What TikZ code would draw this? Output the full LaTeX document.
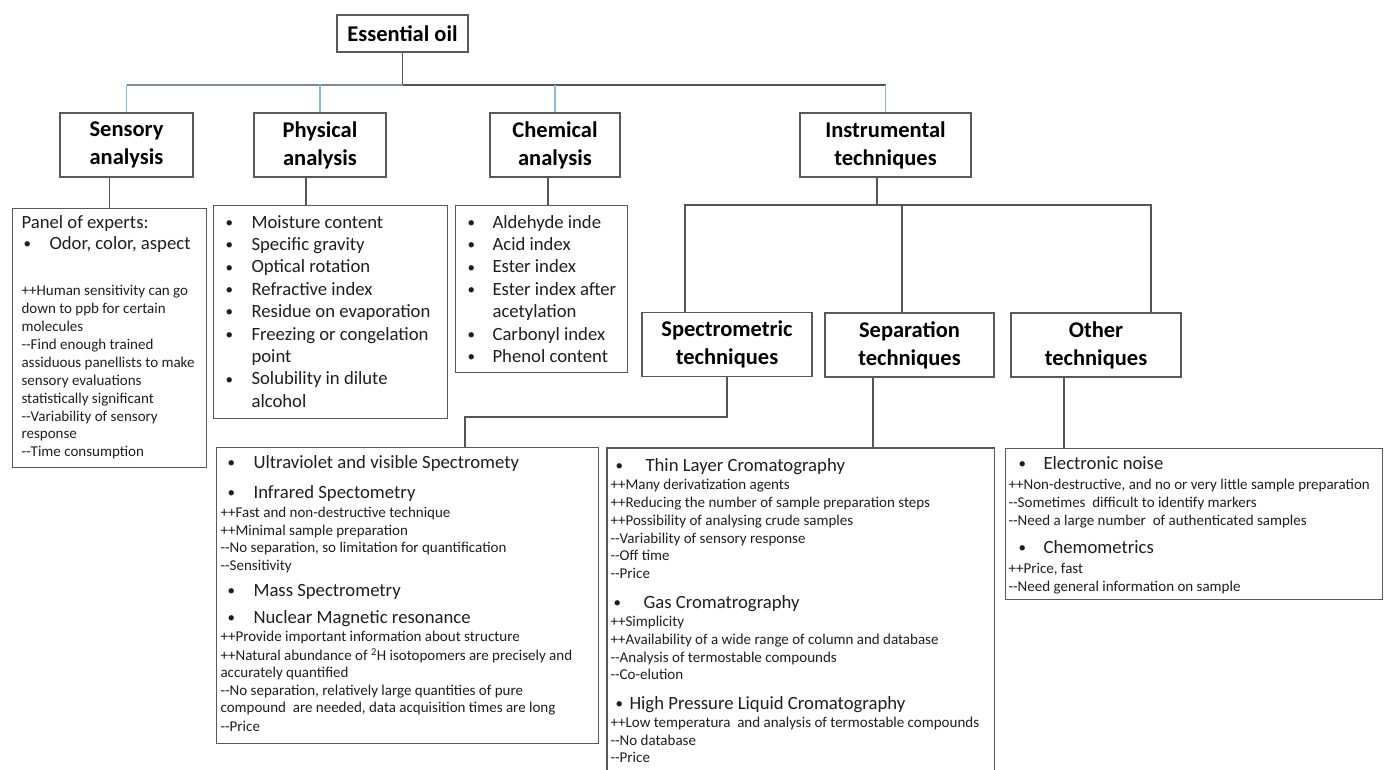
\documentclass[tikz,border=0pt]{standalone}
\usepackage{fontspec}
\setmainfont{Carlito}
\usetikzlibrary{positioning,calc}
\definecolor{boxgray}{RGB}{89,89,89}
\definecolor{linegray}{RGB}{85,85,85}
\definecolor{hubgray}{RGB}{125,140,155}
\definecolor{stubblue}{RGB}{140,182,218}
\definecolor{txtgray}{RGB}{30,30,30}
\tikzset{
  head/.style={draw=boxgray,line width=1.1pt,fill=white,align=center,inner sep=0pt,
    font=\fontsize{22.5}{28}\selectfont\bfseries,text=black},
  listbox/.style={draw=boxgray,line width=1.1pt,anchor=north west,inner sep=0pt,text=txtgray},
  conn/.style={line width=1.1pt,linegray},
  stub/.style={line width=1.1pt,stubblue}
}
\newlength{\smpad}
\newlength{\bulx}
\newlength{\txtx}
% one line of list text: {baselineskip}{text}
\newcommand{\bigline}[2]{{\fontsize{18.7}{#1}\selectfont #2\par}}
\newcommand{\smline}[2]{{\fontsize{15}{#1}\selectfont\hspace*{\smpad}#2\par}}
\newcommand{\bul}{\hspace*{\bulx}\makebox[\dimexpr\txtx-\bulx\relax][l]{\raisebox{0.8pt}{\fontsize{15}{15}\selectfont\textbullet}}}
\newcommand{\ind}{\hspace*{\txtx}}
\newcommand{\dsh}{-\kern0pt-}
\newcommand{\lbox}[3]{\parbox[t][#2][t]{#1}{\lineskiplimit=-100pt\lineskip=0pt\leavevmode\par#3}}

\begin{document}
\begin{tikzpicture}[x=1pt,y=-1pt]
    \useasboundingbox (0,0) rectangle (1384,769);
    % headers
    \node[head,minimum width=131pt,minimum height=37pt] (oil) at (402.5,33.5) {Essential oil};
    \node[head,minimum width=133pt,minimum height=64pt] (sens) at (126.5,145) {Sensory\\analysis};
    \node[head,minimum width=132pt,minimum height=64pt] (phys) at (320,145) {Physical\\analysis};
    \node[head,minimum width=130pt,minimum height=64pt] (chem) at (555,145) {Chemical\\analysis};
    \node[head,minimum width=171pt,minimum height=64pt] (instr) at (885.5,145) {Instrumental\\techniques};
    \node[head,minimum width=170pt,minimum height=64pt] (spec) at (727,344.5) {Spectrometric\\techniques};
    \node[head,minimum width=169pt,minimum height=64pt] (sep) at (909.5,345) {Separation\\techniques};
    \node[head,minimum width=170pt,minimum height=64pt] (other) at (1096,345) {Other\\techniques};

    \node[listbox] (sensT) at (12,208) {\lbox{194pt}{259pt}{%
      \setlength{\smpad}{9pt}\setlength{\bulx}{11pt}\setlength{\txtx}{37pt}%
      \bigline{19.5pt}{\hspace*{9pt}Panel of experts:}
      \bigline{21pt}{\bul Odor, color, aspect}
      \smline{46.7pt}{++Human sensitivity can go}
      \smline{17.9pt}{down to ppb for certain}
      \smline{17.9pt}{molecules}
      \smline{17.9pt}{\dsh Find enough trained}
      \smline{17.9pt}{assiduous panellists to make}
      \smline{17.9pt}{sensory evaluations}
      \smline{17.9pt}{statistically significant}
      \smline{17.9pt}{\dsh Variability of sensory}
      \smline{17.9pt}{response}
      \smline{17.9pt}{\dsh Time consumption}}};

    \node[listbox] (physT) at (213,205) {\lbox{234pt}{213pt}{%
      \setlength{\bulx}{12pt}\setlength{\txtx}{38pt}%
      \bigline{22.5pt}{\bul Moisture content}
      \bigline{22.4pt}{\bul Specific gravity}
      \bigline{22.4pt}{\bul Optical rotation}
      \bigline{22.4pt}{\bul Refractive index}
      \bigline{22.4pt}{\bul Residue on evaporation}
      \bigline{22.4pt}{\bul Freezing or congelation}
      \bigline{22.4pt}{\ind point}
      \bigline{22.4pt}{\bul Solubility in dilute}
      \bigline{22.4pt}{\ind alcohol}}};

    \node[listbox] (chemT) at (455,205) {\lbox{172pt}{167pt}{%
      \setlength{\bulx}{12pt}\setlength{\txtx}{37pt}%
      \bigline{22.5pt}{\bul Aldehyde inde}
      \bigline{22.4pt}{\bul Acid index}
      \bigline{22.4pt}{\bul Ester index}
      \bigline{22.4pt}{\bul Ester index after}
      \bigline{22.4pt}{\ind acetylation}
      \bigline{22.4pt}{\bul Carbonyl index}
      \bigline{22.4pt}{\bul Phenol content}}};

    \node[listbox] (specT) at (216,447) {\lbox{382pt}{296pt}{%
      \setlength{\smpad}{4pt}\setlength{\bulx}{11pt}\setlength{\txtx}{37pt}%
      \bigline{20.5pt}{\bul Ultraviolet and visible Spectromety}
      \bigline{30pt}{\bul Infrared Spectometry}
      \smline{19.7pt}{++Fast and non-destructive technique}
      \smline{18pt}{++Minimal sample preparation}
      \smline{17pt}{\dsh No separation, so limitation for quantification}
      \smline{18pt}{\dsh Sensitivity}
      \bigline{25.3pt}{\bul Mass Spectrometry}
      \bigline{27pt}{\bul Nuclear Magnetic resonance}
      \smline{18.7pt}{++Provide important information about structure}
      \smline{19pt}{++Natural abundance of \textsuperscript{2}H isotopomers are precisely and}
      \smline{17pt}{accurately quantified}
      \smline{18pt}{\dsh No separation, relatively large quantities of pure}
      \smline{17pt}{compound\ \ are needed, data acquisition times are long}
      \smline{19pt}{\dsh Price}}};

    \node[listbox,draw=none] (sepT) at (607,448) {\lbox{386pt}{321pt}{%
      \setlength{\smpad}{3pt}\setlength{\bulx}{8pt}\setlength{\txtx}{38pt}%
      \bigline{22.5pt}{\bul Thin Layer Cromatography}
      \smline{18.7pt}{++Many derivatization agents}
      \smline{17.8pt}{++Reducing the number of sample preparation steps}
      \smline{17.8pt}{++Possibility of analysing crude samples}
      \smline{17.8pt}{\dsh Variability of sensory response}
      \smline{17.8pt}{\dsh Off time}
      \smline{17.8pt}{\dsh Price}
      \bigline{29.3pt}{\setlength{\bulx}{6pt}\setlength{\txtx}{36pt}\bul Gas Cromatrography}
      \smline{18.7pt}{++Simplicity}
      \smline{17.7pt}{++Availability of a wide range of column and database}
      \smline{17.7pt}{\dsh Analysis of termostable compounds}
      \smline{17.7pt}{\dsh Co-elution}
      \bigline{29.3pt}{\setlength{\bulx}{8pt}\setlength{\txtx}{22pt}\bul High Pressure Liquid Cromatography}
      \smline{18.7pt}{++Low temperatura\ \ and analysis of termostable compounds}
      \smline{17.5pt}{\dsh No database}
      \smline{17.5pt}{\dsh Price}}};
    \draw[draw=boxgray,line width=1.1pt] (sepT.south west) |- (sepT.north east) -- (sepT.south east);

    \node[listbox] (otherT) at (1005,448) {\lbox{377pt}{151pt}{%
      \setlength{\smpad}{3pt}\setlength{\bulx}{13pt}\setlength{\txtx}{38pt}%
      \bigline{20.5pt}{\bul Electronic noise}
      \smline{20.7pt}{++Non-destructive, and no or very little sample preparation}
      \smline{17.5pt}{\dsh Sometimes\ \ difficult to identify markers}
      \smline{17.8pt}{\dsh Need a large number\ \ of authenticated samples}
      \bigline{28.3pt}{\bul Chemometrics}
      \smline{19.7pt}{++Price, fast}
      \smline{18pt}{\dsh Need general information on sample}}};

    % top tree
    \coordinate (hub) at (402.5,85);
    \draw[conn] (oil.south) -- (hub);
    \draw[line width=1.1pt,hubgray] (sens.north |- hub) -- (hub);
    \draw[conn] (hub) -- (instr.north |- hub);
    \foreach \n in {sens,phys,chem,instr}
        \draw[stub] (\n.north |- hub) -- (\n.north);

    % instrumental branches
    \coordinate (ibar) at (877,205);
    \draw[conn] (instr.south -| ibar) -- (ibar);
    \draw[conn] ([xshift=-42pt]spec.north) |- ([xshift=55pt]other.north |- ibar) -- ([xshift=55pt]other.north);
    \draw[conn] ([xshift=-7.5pt]sep.north) -- ([xshift=-7.5pt]sep.north |- ibar);

    % down to the lists
    \draw[conn] (sens.south -| sensT.north) -- (sensT.north);
    \draw[conn] ([xshift=-14pt]phys.south) -- ([xshift=-14pt]phys.south |- physT.north);
    \draw[conn] ([xshift=-7pt]chem.south) -- ([xshift=-7pt]chem.south |- chemT.north);
    \coordinate (sbend) at (465,417);
    \draw[conn] (spec.south) |- (sbend) -- (sbend |- specT.north);
    \draw[conn] ([xshift=-36.5pt]sep.south) -- ([xshift=-36.5pt]sep.south |- sepT.north);
    \draw[conn] ([xshift=-32pt]other.south) -- ([xshift=-32pt]other.south |- otherT.north);
\end{tikzpicture}
\end{document}
